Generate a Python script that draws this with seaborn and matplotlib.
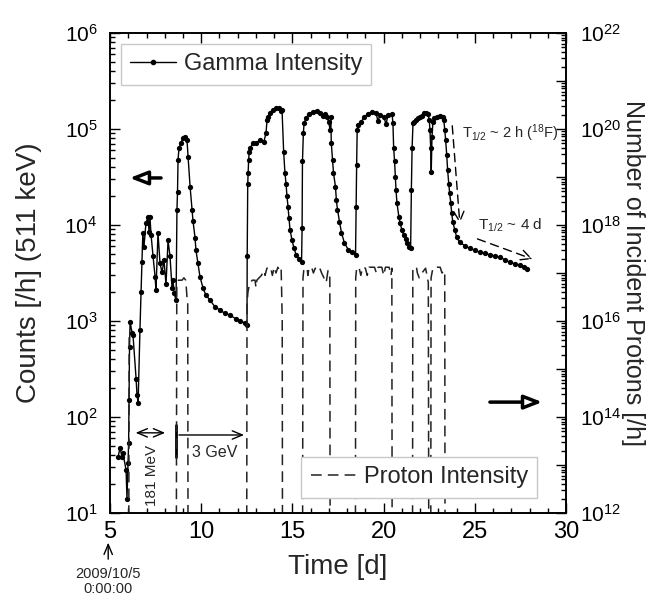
import numpy as np
import pandas as pd
import matplotlib
matplotlib.use('Agg')
import matplotlib.pyplot as plt
import seaborn as sns
from matplotlib.lines import Line2D
from matplotlib.ticker import LogLocator, FuncFormatter, MultipleLocator, NullFormatter

# gamma intensity (511 keV counts per hour)
gamma_t = [5.44, 5.55, 5.66, 5.71, 5.88, 5.93, 5.99, 6.02, 6.04, 6.07, 6.10, 6.21, 6.26,
           6.43, 6.48, 6.54, 6.64, 6.70, 6.75, 6.80, 6.86, 6.97, 7.08, 7.14, 7.19, 7.25,
           7.36, 7.47, 7.52, 7.63, 7.74, 7.85, 7.96, 8.07, 8.18, 8.29, 8.40, 8.45, 8.51,
           8.62, 8.67, 8.70, 8.73, 8.78, 8.89, 9.00, 9.11, 9.22, 9.28, 9.39, 9.50, 9.55,
           9.66, 9.71, 9.82, 9.93, 10.10, 10.26, 10.48, 10.76, 11.03, 11.30, 11.58, 11.91,
           12.13, 12.40, 12.51,
           12.52, 12.55, 12.57, 12.60, 12.63, 12.68, 12.84, 13.00, 13.22, 13.44, 13.55,
           13.61, 13.66, 13.77, 13.94, 14.10, 14.27, 14.38, 14.43, 14.52, 14.59, 14.65,
           14.70, 14.76, 14.81, 14.87, 14.98, 15.09, 15.20, 15.36, 15.50,
           15.53, 15.55, 15.60, 15.64, 15.75, 15.91, 16.13, 16.35, 16.51, 16.68, 16.79,
           16.90, 17.00, 17.06, 17.10, 17.13, 17.20, 17.25, 17.36, 17.41, 17.47, 17.58,
           17.69, 17.85, 18.07, 18.29, 18.46,
           18.49, 18.52, 18.55, 18.60, 18.76, 18.93, 19.15, 19.37, 19.58, 19.69, 19.80,
           20.02, 20.13, 20.24, 20.46, 20.51, 20.55, 20.60, 20.64, 20.68, 20.73, 20.84,
           20.90, 21.00, 21.10, 21.20, 21.30, 21.40, 21.48,
           21.52, 21.56, 21.61, 21.67, 21.78, 21.89, 22.00, 22.11, 22.22, 22.33, 22.43,
           22.50, 22.54, 22.58, 22.61, 22.65, 22.70, 22.76, 22.92, 23.08, 23.25, 23.30,
           23.35, 23.40, 23.46, 23.51, 23.57, 23.62, 23.68, 23.73, 23.79, 23.90, 24.00,
           24.17, 24.45, 24.72, 25.00, 25.27, 25.55, 25.82, 26.10, 26.37, 26.65, 26.91,
           27.20, 27.46, 27.70, 27.85]
gamma_c = [38, 48, 38, 42, 28, 14, 33, 54, 152, 540, 980, 750, 710,
           250, 170, 140, 800, 2000, 4100, 8300, 5900, 10500, 12000, 8500, 12000, 7900,
           4700, 2900, 2100, 8300, 4000, 3200, 4300, 2400, 6900, 4700, 2200, 2700, 1950,
           1650, 14500, 22000, 48000, 63000, 72000, 80000, 82000, 77000, 51000, 25000, 14500, 11000,
           7400, 5500, 4000, 2900, 2200, 1850, 1650, 1400, 1300, 1200, 1150, 1050,
           1000, 950, 900,
           4700, 27000, 35000, 48000, 57000, 63000, 72000, 72000, 76000, 74000, 91000,
           124000, 133000, 147000, 158000, 165000, 165000, 155000, 158000, 57000, 35000, 27000,
           20000, 15400, 11800, 8900, 6900, 5700, 4900, 4400, 4100,
           9300, 46000, 91000, 115000, 130000, 144000, 152000, 155000, 148000, 137000, 144000,
           133000, 117000, 98000, 133000, 72000, 48000, 35000, 25000, 18000, 14500, 10800,
           8300, 6500, 5500, 5200, 4900,
           15400, 42000, 98000, 110000, 117000, 133000, 144000, 152000, 148000, 120000, 140000,
           133000, 112000, 140000, 144000, 115000, 63000, 46000, 32000, 23000, 17000, 12000,
           10500, 8900, 7900, 7100, 6500, 5900, 5700,
           23000, 63000, 115000, 117000, 124000, 130000, 133000, 138000, 148000, 148000, 144000,
           124000, 98000, 63000, 36000, 82000, 117000, 130000, 133000, 137000, 133000, 124000,
           98000, 77000, 53000, 37000, 27000, 21500, 17000, 13300, 10800, 8900, 7500,
           6600, 6100, 5700, 5450, 5200, 5050, 4900, 4750, 4600, 4350, 4100,
           3950, 3800, 3650, 3500]

# proton intensity (log10 of protons per hour); 10 = beam off (below the axis)
proton_t = [6.02, 6.05,
            8.63, 8.66, 8.75, 8.95, 9.05, 9.15, 9.22, 9.26, 9.28,
            12.49, 12.51, 12.56, 12.65, 12.80, 12.95, 13.00, 13.05, 13.30, 13.45, 13.50,
            13.60, 13.80, 13.90, 14.00, 14.10, 14.20, 14.30, 14.38, 14.41, 14.44, 14.46,
            15.55, 15.58, 15.62, 15.70, 15.80, 15.85, 15.90, 16.05, 16.15, 16.25, 16.40,
            16.50, 16.60, 16.85, 16.95, 17.05, 17.07,
            18.45, 18.47, 18.52, 18.65, 18.75, 18.85, 19.00, 19.10, 19.20, 19.50, 19.60,
            19.70, 19.90, 20.00, 20.10, 20.30, 20.40, 20.45, 20.47,
            21.58, 21.60, 21.65, 21.80, 21.85, 21.95, 22.10, 22.30, 22.45, 22.48,
            22.58, 22.60, 22.70, 22.90, 23.10, 23.20, 23.35, 23.37]
proton_logp = [10, 15.7,
               10, 16.75, 16.85, 16.85, 16.9, 16.85, 16.5, 16.4, 10,
               10, 16.35, 16.6, 16.78, 16.85, 16.85, 16.7, 16.85, 16.95, 17.05, 16.95,
               17.1, 17.12, 16.95, 17.12, 17.0, 17.12, 17.05, 17.1, 16.6, 16.0, 10,
               10, 16.9, 17.05, 17.1, 17.1, 16.95, 17.1, 17.12, 17.0, 17.1, 17.05,
               17.1, 17.0, 16.8, 17.05, 16.9, 10,
               10, 16.9, 17.1, 17.12, 16.95, 17.12, 17.1, 16.95, 17.12, 17.12, 17.0,
               17.12, 17.12, 16.95, 17.12, 17.12, 16.95, 17.1, 10,
               10, 17.05, 17.12, 17.12, 17.0, 16.9, 17.0, 17.1, 16.8, 10,
               10, 16.9, 17.1, 17.12, 17.12, 17.0, 17.05, 10]
proton_run = [0] * 2 + [1] * 9 + [2] * 22 + [3] * 17 + [4] * 19 + [5] * 10 + [6] * 8

gamma_df = pd.DataFrame({'t': gamma_t, 'counts': gamma_c})
proton_df = pd.DataFrame({'t': proton_t, 'p': np.power(10.0, proton_logp), 'run': proton_run})

sns.set_theme(style='ticks')
plt.rcParams['font.family'] = ['Liberation Sans', 'DejaVu Sans']
plt.rcParams['mathtext.fontset'] = 'custom'
plt.rcParams['mathtext.rm'] = 'Liberation Sans'
plt.rcParams['mathtext.it'] = 'Liberation Sans:italic'

fig = plt.figure(figsize=(6.51, 5.99), dpi=100)
ax = fig.add_axes([0.169, 0.1436, 0.7005, 0.8013])
ax2 = ax.twinx()

sns.lineplot(data=gamma_df, x='t', y='counts', ax=ax, color='black', lw=1.0,
             marker='o', markersize=3.8, markeredgewidth=0, sort=False, zorder=3)
sns.lineplot(data=proton_df, x='t', y='p', units='run', estimator=None, ax=ax2,
             color='#222222', lw=1.1, linestyle=(0, (7, 4)), sort=False)

ax.set_yscale('log')
ax.set_ylim(10, 1e6)
ax.set_xlim(5, 30)
ax2.set_yscale('log')
ax2.set_ylim(1e12, 1e22)

ax.xaxis.set_major_locator(MultipleLocator(5))
ax.xaxis.set_minor_locator(MultipleLocator(1))
ax.yaxis.set_major_locator(LogLocator(base=10, numticks=10))
ax.yaxis.set_minor_locator(LogLocator(base=10, subs=np.arange(2, 10), numticks=10))
ax.yaxis.set_minor_formatter(NullFormatter())
ax2.yaxis.set_major_locator(LogLocator(base=10, subs=(1.0,), numticks=20))
ax2.yaxis.set_minor_locator(LogLocator(base=10, subs=np.arange(2, 10), numticks=20))
ax2.yaxis.set_minor_formatter(NullFormatter())
ax2.yaxis.set_major_formatter(FuncFormatter(
    lambda v, pos: r'$10^{%d}$' % round(np.log10(v)) if round(np.log10(v)) % 2 == 0 else ''))

for a in (ax, ax2):
    a.tick_params(which='both', direction='in', width=1.0, colors='black', labelsize=15)
    a.tick_params(which='major', length=7)
    a.tick_params(which='minor', length=3.5)
    for s in a.spines.values():
        s.set_linewidth(1.2)
        s.set_color('black')
ax.tick_params(which='both', top=True)
ax.tick_params(axis='x', pad=6, labelsize=17)
ax.tick_params(axis='y', pad=9)
ax2.tick_params(axis='y', pad=10)

ax.set_xlabel('Time [d]', fontsize=20, labelpad=8)
ax.set_ylabel('Counts [/h] (511 keV)', fontsize=20, labelpad=16)
ax2.set_ylabel('Number of Incident Protons [/h]', fontsize=18, rotation=270, labelpad=17)

# legends
leg_kw = dict(loc='upper left', borderaxespad=0, fancybox=False, edgecolor='#c8c8c8',
              fontsize=17, handlelength=1.95, handletextpad=0.3, borderpad=0.4, framealpha=1)
ax.legend(handles=[Line2D([], [], color='black', lw=1.0, marker='o', markersize=3)],
          labels=['Gamma Intensity'], bbox_to_anchor=(0.024, 0.977), **leg_kw)
ax2.legend(handles=[Line2D([], [], color='#222222', lw=1.1, linestyle=(0, (7, 4)))],
           labels=['Proton Intensity'], bbox_to_anchor=(0.419, 0.117), **leg_kw)

# annotations (axes fraction coordinates)
big = dict(arrowstyle='-|>,head_length=0.9,head_width=0.35', lw=2.5, color='black', fc='white')
ax.annotate('', xy=(0.037, 0.698), xytext=(0.118, 0.698), xycoords='axes fraction', arrowprops=big)
ax.annotate('', xy=(0.954, 0.231), xytext=(0.827, 0.231), xycoords='axes fraction', arrowprops=big)

ax.annotate('', xy=(0.050, 0.167), xytext=(0.127, 0.167), xycoords='axes fraction',
            arrowprops=dict(arrowstyle='<->,head_length=0.6,head_width=0.25', lw=1.0, color='black'))
ax.text(0.092, 0.079, '181 MeV', transform=ax.transAxes, rotation=90, ha='center', va='center', fontsize=11)
ax.plot([0.145, 0.145], [0.117, 0.183], transform=ax.transAxes, color='black', lw=2)
ax.annotate('', xy=(0.300, 0.1625), xytext=(0.145, 0.1625), xycoords='axes fraction',
            arrowprops=dict(arrowstyle='->,head_length=0.6,head_width=0.25', lw=1.0, color='black'))
ax.text(0.18, 0.127, '3 GeV', transform=ax.transAxes, ha='left', va='center', fontsize=11.5)

ax.text(0.772, 0.792, r'T$_{1/2}$ ~ 2 h ($^{18}$F)', transform=ax.transAxes, ha='left', va='center', fontsize=10.5)
ax.annotate('', xy=(0.7675, 0.598), xytext=(0.75, 0.8125), xycoords='axes fraction',
            arrowprops=dict(arrowstyle='->,head_length=0.6,head_width=0.3', lw=1.0,
                            linestyle=(0, (6, 4)), color='black'))
ax.text(0.807, 0.60, r'T$_{1/2}$ ~ 4 d', transform=ax.transAxes, ha='left', va='center', fontsize=11)
ax.annotate('', xy=(0.932, 0.527), xytext=(0.80, 0.573), xycoords='axes fraction',
            arrowprops=dict(arrowstyle='->,head_length=0.6,head_width=0.3', lw=1.0,
                            linestyle=(0, (6, 4)), color='black'))

ax.annotate('', xy=(-0.004, -0.056), xytext=(-0.004, -0.102), xycoords='axes fraction',
            annotation_clip=False, arrowprops=dict(arrowstyle='->,head_length=0.6,head_width=0.25', lw=1.0, color='black'))
ax.text(-0.004, -0.142, '2009/10/5\n0:00:00', transform=ax.transAxes, ha='center', va='center',
        fontsize=10.5, linespacing=1.1)

fig.savefig('out.png', dpi=100)
